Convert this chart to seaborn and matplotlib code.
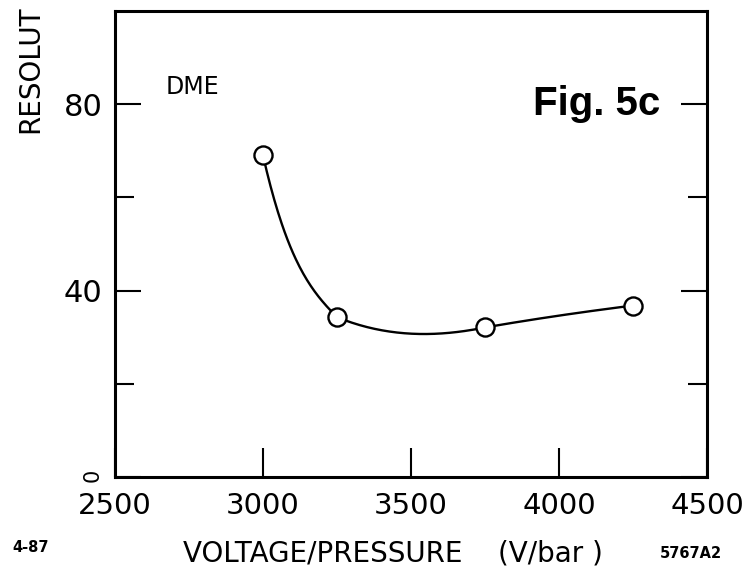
import numpy as np
import pandas as pd
import matplotlib
matplotlib.use("Agg")
import matplotlib.pyplot as plt
import seaborn as sns

# measured points (DME)
voltage = [3000, 3250, 3750, 4250]
resolution = [69.0, 34.3, 32.1, 36.8]

# tangent of the drawn curve at each end of a segment (per V)
seg_start_slope = [-0.28, -0.026, 0.011]
seg_end_slope = [-0.065, 0.013, 0.008]

x_ticks = [2500, 3000, 3500, 4000, 4500]
y_major = [0, 40, 80]
y_minor = [20, 60]


def hermite_curve(xs, ys, d0s, d1s, n=80):
    # piecewise cubic hermite through the points, one piece per segment
    cx, cy = [], []
    for i in range(len(xs) - 1):
        h = xs[i + 1] - xs[i]
        t = np.linspace(0, 1, n)
        h00 = 2 * t**3 - 3 * t**2 + 1
        h10 = t**3 - 2 * t**2 + t
        h01 = -2 * t**3 + 3 * t**2
        h11 = t**3 - t**2
        cx.append(xs[i] + t * h)
        cy.append(h00 * ys[i] + h10 * h * d0s[i] + h01 * ys[i + 1] + h11 * h * d1s[i])
    return np.concatenate(cx), np.concatenate(cy)


sns.set_theme(style="ticks")
plt.rcParams["font.family"] = ["DejaVu Sans"]
plt.rcParams.update({"text.color": "black", "axes.labelcolor": "black",
                     "xtick.color": "black", "ytick.color": "black",
                     "axes.edgecolor": "black"})

fig = plt.figure(figsize=(7.43, 5.66), dpi=100)
ax = fig.add_axes([0.1548, 0.1572, 0.7968, 0.8233])

curve_x, curve_y = hermite_curve(voltage, resolution, seg_start_slope, seg_end_slope)
curve = pd.DataFrame({"V": curve_x, "R": curve_y})
pts = pd.DataFrame({"V": voltage, "R": resolution})

sns.lineplot(data=curve, x="V", y="R", sort=False, estimator=None,
             color="black", linewidth=1.7, ax=ax, zorder=2)
sns.scatterplot(data=pts, x="V", y="R", s=170, marker="o",
                facecolor="white", edgecolor="black", linewidth=1.7,
                ax=ax, zorder=3)

ax.set_xlim(2500, 4500)
ax.set_ylim(0, 100)

ax.set_xticks(x_ticks)
ax.set_xticklabels([str(v) for v in x_ticks], fontsize=21)
ax.set_yticks(y_major)
ax.set_yticks(y_minor, minor=True)
ylabels = ax.set_yticklabels([str(v) for v in y_major], fontsize=22)
ylabels[0].set_rotation(90)
ylabels[0].set_fontsize(15)

for s in ax.spines.values():
    s.set_linewidth(2.2)
    s.set_color("black")

ax.tick_params(axis="x", which="major", direction="in", length=21, width=1.5,
               top=False, pad=11, colors="black")
ax.tick_params(axis="y", which="major", direction="in", length=19, width=1.5,
               left=True, right=True, pad=9, colors="black")
ax.tick_params(axis="y", which="minor", direction="in", length=13.5, width=1.5,
               left=True, right=True)

ax.set_xlabel("VOLTAGE/PRESSURE    (V/bar )", fontsize=20, color="black")
ax.xaxis.set_label_coords(0.47, -0.133)
ax.set_ylabel("RESOLUT", fontsize=20, color="black")
ax.yaxis.set_label_coords(-0.12, 0.8755)

ax.text(2670, 83.7, "DME", fontsize=17, ha="left", va="center")
ax.text(4341, 77.7, "Fig. 5c", fontsize=29, fontweight="bold",
        family="Liberation Sans", ha="right", va="baseline")

fig.text(12 / 743, 1 - 548 / 566, "4-87", fontsize=10.5, fontweight="bold",
         ha="left", va="center")
fig.text(722 / 743, 1 - 553 / 566, "5767A2", fontsize=10.5, fontweight="bold",
         ha="right", va="center")

fig.savefig("out.png", dpi=100)
